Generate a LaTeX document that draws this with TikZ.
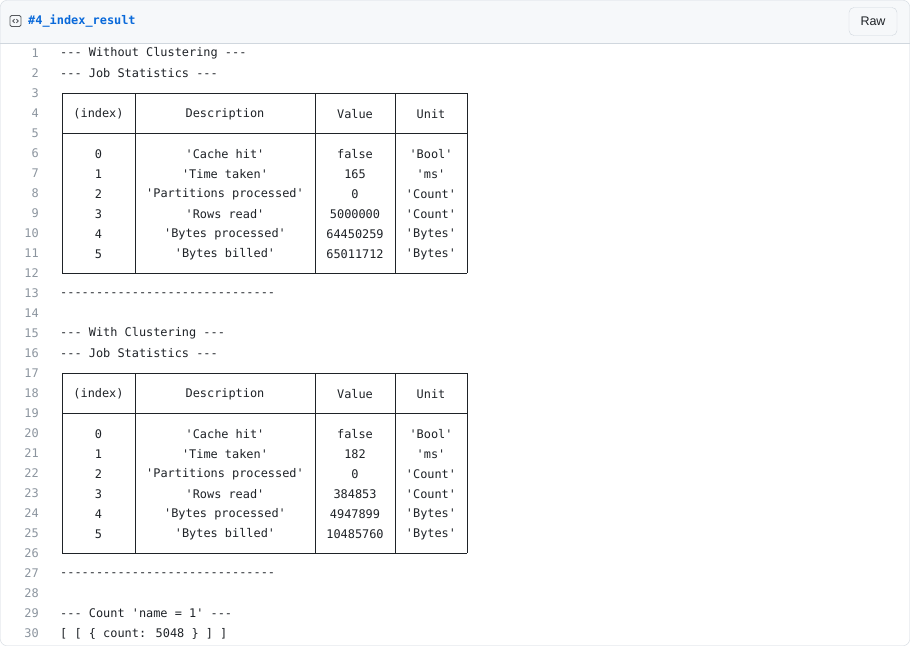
\documentclass[tikz,border=0pt]{standalone}
\usepackage{fontspec}
\setmainfont{Liberation Sans}
\newfontfamily\codefont{DejaVu Sans Mono}
\definecolor{fg}{HTML}{1F2328}
\definecolor{lnum}{HTML}{8C959F}
\definecolor{bord}{HTML}{D0D7DE}
\definecolor{hbg}{HTML}{F6F8FA}
\definecolor{link}{HTML}{0969DA}
\tikzset{
  code/.style={anchor=west,inner sep=0pt,font=\codefont\fontsize{11.9}{12}\selectfont,text=fg},
  cell/.style={anchor=center,inner sep=0pt,font=\codefont\fontsize{11.9}{12}\selectfont,text=fg},
  ln/.style={anchor=east,inner sep=0pt,font=\codefont\fontsize{11.9}{12}\selectfont,text=lnum},
  tline/.style={draw=fg,line width=0.9pt}
}
\begin{document}
\begin{tikzpicture}[x=1pt,y=-1pt]
\useasboundingbox (0,0) rectangle (910,646);
\fill[white] (0,0) rectangle (910,646);
\begin{scope}
\clip[rounded corners=6pt] (0.5,0.5) rectangle (909.5,645.5);
\fill[hbg] (0,0) rectangle (910,43);
\end{scope}
\draw[bord] (0,43) -- (910,43);
\draw[bord,rounded corners=6pt] (0.5,0.5) rectangle (909.5,645.5);
% header
\node[draw=fg!75,line width=0.9pt,rounded corners=1.5pt,minimum width=11pt,minimum height=11pt,inner sep=0pt] (icon) at (15.5,21) {};
\draw[fg!75,line width=0.9pt] ([xshift=-1pt,yshift=1.8pt]icon.center) -- ([xshift=-2.8pt]icon.center) -- ([xshift=-1pt,yshift=-1.8pt]icon.center);
\draw[fg!75,line width=0.9pt] ([xshift=1pt,yshift=1.8pt]icon.center) -- ([xshift=2.8pt]icon.center) -- ([xshift=1pt,yshift=-1.8pt]icon.center);
\node[anchor=west,inner sep=0pt,font=\codefont\bfseries\fontsize{11.9}{12}\selectfont,text=link] (title) at (28,21) {\#4\_index\_result};
\node[draw=bord,fill=hbg,rounded corners=5pt,minimum width=48pt,minimum height=28pt,inner sep=0pt,font=\fontsize{12.5}{13}\selectfont,text=fg] (raw) at (873,21.5) {Raw};
% line numbers
\foreach \i in {1,...,30} {
  \node[ln] (n\i) at (39,{53.5+(\i-1)*20}) {\i};
}
\node[code] (l1) at (60,53.5) {--- Without Clustering ---};
\node[code] (l2) at (60,73.5) {--- Job Statistics ---};
\node[code] (l13) at (60,294.5) {------------------------------};
\node[code] (l15) at (60,333.5) {--- With Clustering ---};
\node[code] (l16) at (60,353.5) {--- Job Statistics ---};
\node[code] (l27) at (60,574.5) {------------------------------};
\node[code] (l29) at (60,613.5) {--- Count 'name = 1' ---};
\node[code] (l30) at (60,633.5) {[ [ \{ count: 5048 \} ] ]};
% tables
\foreach \off/\tag/\vals in {0/a/{false,165,0,5000000,64450259,65011712},280/b/{false,182,0,384853,4947899,10485760}} {
  \begin{scope}[yshift=-\off pt]
    \draw[tline] (62,93) -- (467,93);
    \draw[tline] (62,133) -- (467,133);
    \draw[tline] (62,273) -- (467,273);
    \foreach \x in {62,135,315,395,467} \draw[tline] (\x,93) -- (\x,273);
    \node[cell] (\tag h1) at (98.5,114) {(index)};
    \node[cell] (\tag h2) at (225,114) {Description};
    \node[cell] (\tag h3) at (355,114) {Value};
    \node[cell] (\tag h4) at (431,114) {Unit};
    \foreach \d [count=\r from 0] in {'Cache hit','Time taken','Partitions processed','Rows read','Bytes processed','Bytes billed'} {
      \node[cell] (\tag i\r) at (98.5,{154+\r*20}) {\r};
      \node[cell] (\tag d\r) at (225,{154+\r*20}) {\d};
    }
    \foreach \v [count=\r from 0] in \vals {
      \node[cell] (\tag v\r) at (355,{154+\r*20}) {\v};
    }
    \foreach \u [count=\r from 0] in {'Bool','ms','Count','Count','Bytes','Bytes'} {
      \node[cell] (\tag u\r) at (431,{154+\r*20}) {\u};
    }
  \end{scope}
}
\end{tikzpicture}
\end{document}
